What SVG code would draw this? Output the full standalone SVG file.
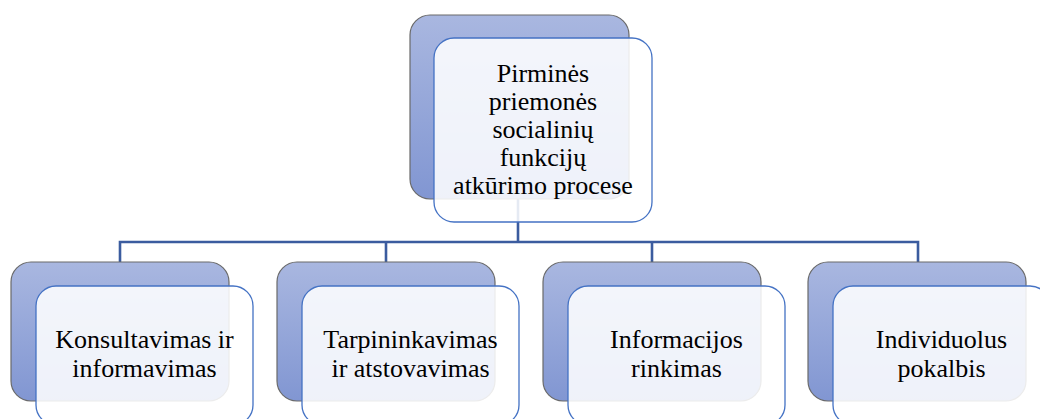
<svg xmlns="http://www.w3.org/2000/svg" width="1040" height="419" viewBox="0 0 1040 419">
  <defs>
    <linearGradient id="backGrad" x1="0" y1="0" x2="0" y2="1">
      <stop offset="0" stop-color="#a9b7e0"/>
      <stop offset="1" stop-color="#8196d2"/>
    </linearGradient>
  </defs>
  <style>
    .back { fill: url(#backGrad); stroke: #6a6a6a; stroke-width: 1.2; }
    .front { fill: #ffffff; fill-opacity: 0.87; stroke: #4472c4; stroke-width: 1.3; }
    .lbl { font-size: 26px; fill: #000000; text-anchor: middle; }
    .conn { fill: none; stroke: #3b5c9f; stroke-width: 2.6; }
  </style>
  <rect width="1040" height="419" fill="#ffffff"/>
  <g id="connectors">
    <path class="conn" d="M518,199 V242"/>
    <path class="conn" d="M120,262 V242 H918 V262"/>
    <path class="conn" d="M386,242 V262"/>
    <path class="conn" d="M652,242 V262"/>
  </g>
  <g id="node-top">
    <rect class="back" x="410" y="15" width="219" height="184" rx="20" ry="20"/>
    <rect class="front" x="434" y="38" width="218" height="184" rx="20" ry="20"/>
    <text class="lbl" font-family="'Liberation Serif', Tinos, 'Times New Roman', 'DejaVu Serif', serif" x="543" y="82">Pirminės</text>
    <text class="lbl" font-family="'Liberation Serif', Tinos, 'Times New Roman', 'DejaVu Serif', serif" x="543" y="110">priemonės</text>
    <text class="lbl" font-family="'Liberation Serif', Tinos, 'Times New Roman', 'DejaVu Serif', serif" x="543" y="138">socialinių</text>
    <text class="lbl" font-family="'Liberation Serif', Tinos, 'Times New Roman', 'DejaVu Serif', serif" x="543" y="166">funkcijų</text>
    <text class="lbl" font-family="'Liberation Serif', Tinos, 'Times New Roman', 'DejaVu Serif', serif" x="543" y="194">atkūrimo procese</text>
  </g>
  <g id="node-1">
    <rect class="back" x="11" y="262" width="218" height="139" rx="20" ry="20"/>
    <rect class="front" x="36" y="286" width="217" height="139" rx="20" ry="20"/>
    <text class="lbl" font-family="'Liberation Serif', Tinos, 'Times New Roman', 'DejaVu Serif', serif" x="144.5" y="348">Konsultavimas ir</text>
    <text class="lbl" font-family="'Liberation Serif', Tinos, 'Times New Roman', 'DejaVu Serif', serif" x="144.5" y="376.5">informavimas</text>
  </g>
  <g id="node-2">
    <rect class="back" x="277" y="262" width="218" height="139" rx="20" ry="20"/>
    <rect class="front" x="302" y="286" width="217" height="139" rx="20" ry="20"/>
    <text class="lbl" font-family="'Liberation Serif', Tinos, 'Times New Roman', 'DejaVu Serif', serif" x="410.5" y="348">Tarpininkavimas</text>
    <text class="lbl" font-family="'Liberation Serif', Tinos, 'Times New Roman', 'DejaVu Serif', serif" x="410.5" y="376.5">ir atstovavimas</text>
  </g>
  <g id="node-3">
    <rect class="back" x="543" y="262" width="218" height="139" rx="20" ry="20"/>
    <rect class="front" x="568" y="286" width="217" height="139" rx="20" ry="20"/>
    <text class="lbl" font-family="'Liberation Serif', Tinos, 'Times New Roman', 'DejaVu Serif', serif" x="676.5" y="348">Informacijos</text>
    <text class="lbl" font-family="'Liberation Serif', Tinos, 'Times New Roman', 'DejaVu Serif', serif" x="676.5" y="376.5">rinkimas</text>
  </g>
  <g id="node-4">
    <rect class="back" x="808" y="262" width="218" height="139" rx="20" ry="20"/>
    <rect class="front" x="833" y="286" width="217" height="139" rx="20" ry="20"/>
    <text class="lbl" font-family="'Liberation Serif', Tinos, 'Times New Roman', 'DejaVu Serif', serif" x="941.5" y="348">Individuolus</text>
    <text class="lbl" font-family="'Liberation Serif', Tinos, 'Times New Roman', 'DejaVu Serif', serif" x="941.5" y="376.5">pokalbis</text>
  </g>
</svg>
